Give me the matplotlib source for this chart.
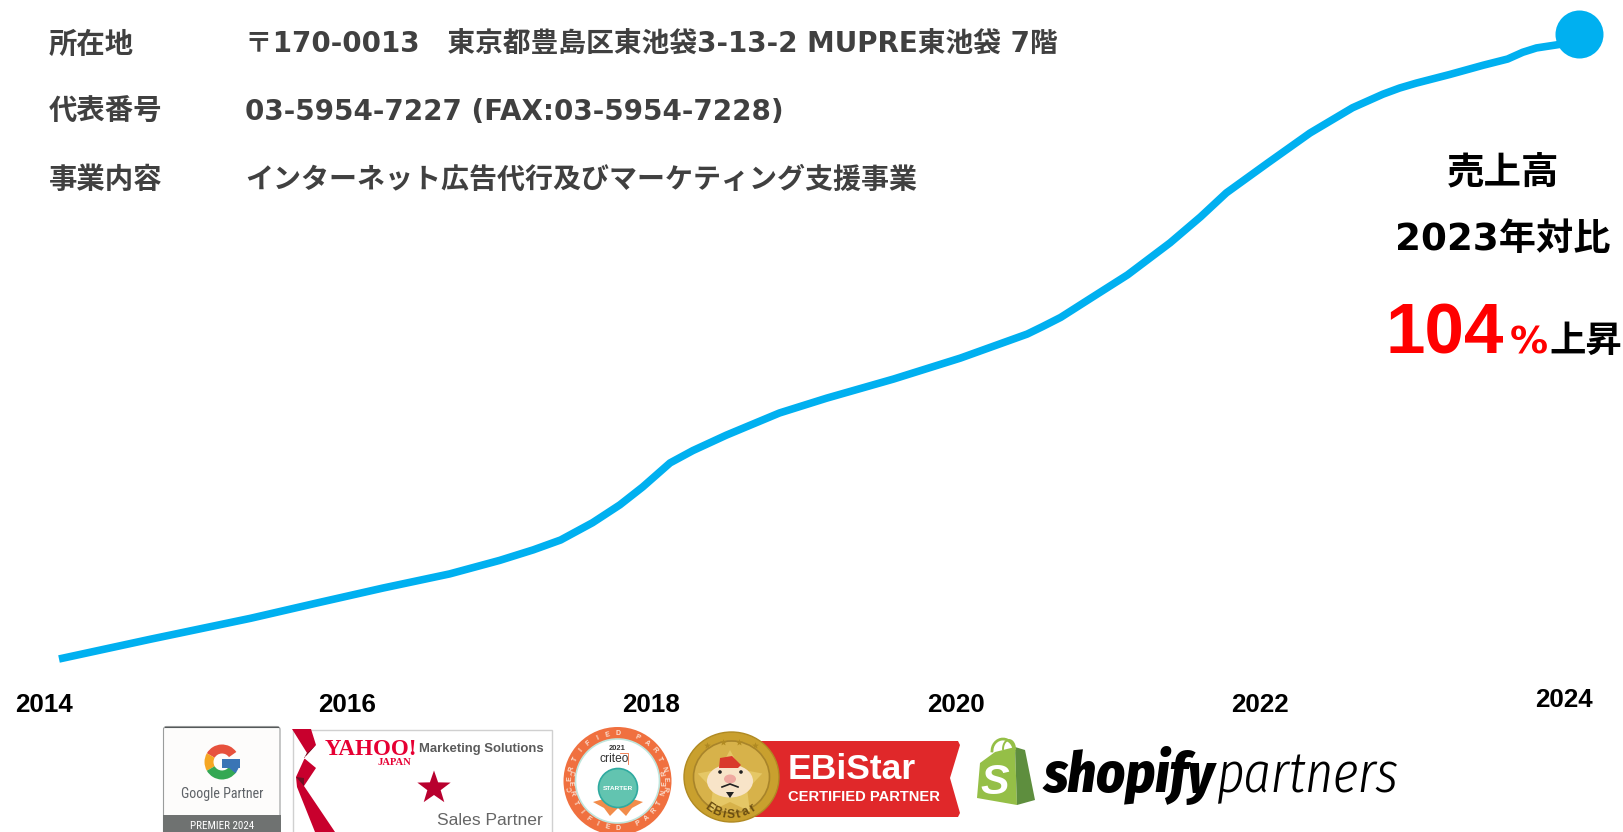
import numpy as np
import matplotlib
matplotlib.use("Agg")
import matplotlib.pyplot as plt
from matplotlib.patches import Circle, Wedge, Polygon, Rectangle, FancyBboxPatch, Ellipse

# ---------- data ----------
years = [2014.00, 2014.60, 2015.26, 2015.70, 2016.13, 2016.57, 2016.90, 2017.12, 2017.30, 2017.51,
         2017.69, 2017.84, 2018.02, 2018.17, 2018.39, 2018.74, 2019.05, 2019.49, 2019.93, 2020.37,
         2020.47, 2020.59, 2020.80, 2021.03, 2021.31, 2021.51, 2021.68, 2021.95, 2022.23, 2022.51, 2022.71,
         2022.82, 2022.93, 2023.15, 2023.37, 2023.53, 2023.63, 2023.72, 2023.88, 2024.00]
sales_index = [0.0, 3.2, 6.6, 9.1, 11.5, 13.8, 16.0, 17.7, 19.3, 22.1,
               25.0, 27.9, 31.8, 33.8, 36.3, 39.9, 42.3, 45.4, 48.8, 52.7,
               53.9, 55.4, 58.7, 62.3, 67.5, 71.7, 75.6, 80.4, 85.3, 89.4, 91.6,
               92.6, 93.4, 94.8, 96.3, 97.3, 98.4, 99.1, 99.7, 101.4]
tick_years = [2014, 2016, 2018, 2020, 2022, 2024]
info_labels = ["所在地", "代表番号", "事業内容"]
info_values = ["〒170-0013　東京都豊島区東池袋3-13-2 MUPRE東池袋 7階",
               "03-5954-7227 (FAX:03-5954-7228)",
               "インターネット広告代行及びマーケティング支援事業"]

W, H = 1623, 832
LINE = "#00B0F0"
MIXED = ["DejaVu Sans", "Noto Sans CJK JP"]
COND = ["Roboto Condensed", "Liberation Sans"]
PX = 0.72  # points per pixel at dpi 100

fig = plt.figure(figsize=(W / 100, H / 100), dpi=100, facecolor="white")

ax = fig.add_axes([0, 0, 1, 1])
PX_PER_YEAR, PX_PER_UNIT = 152.0, 6.166
ax.set_xlim(2014 - 59 / PX_PER_YEAR, 2014 + (W - 59) / PX_PER_YEAR)
ax.set_ylim(-(H - 659) / PX_PER_UNIT, 659 / PX_PER_UNIT)
ax.axis("off")
ax.plot(years, sales_index, color=LINE, lw=7.6 * PX, solid_capstyle="butt", solid_joinstyle="round", zorder=3)
ax.plot(years[-1], sales_index[-1], "o", color=LINE, ms=48 * PX, mew=0, zorder=4)

for yr in tick_years:
    base = -7.8 if yr == 2024 else -8.6
    ax.annotate(str(yr), xy=(yr, base), xytext=(-15.5, 0), textcoords="offset pixels",
                ha="center", va="baseline", family="Liberation Sans", weight="bold",
                fontsize=26 * PX, color="black")

p = fig.add_axes([0, 0, 1, 1], facecolor="none")
p.set_xlim(0, W)
p.set_ylim(H, 0)
p.axis("off")


def T(x, y, s, px, color="black", ha="left", va="baseline", weight="bold", family=None, **kw):
    return p.text(x, y, s, fontsize=px * PX, color=color, ha=ha, va=va, weight=weight,
                  family=family or MIXED, **kw)


def star(cx, cy, r_out, r_in, color, z=5, n=5):
    a = np.deg2rad(-90 + np.arange(2 * n) * 180 / n)
    r = np.where(np.arange(2 * n) % 2 == 0, r_out, r_in)
    p.add_patch(Polygon(np.c_[cx + r * np.cos(a), cy + r * np.sin(a)], closed=True, fc=color, ec="none", zorder=z))


def arc_text(cx, cy, r, s, a_start, a_step, px, color, z=8, weight="bold", bottom=False):
    for i, ch in enumerate(s):
        a = np.deg2rad(a_start + i * a_step)
        rot = -(np.rad2deg(a) + 90) if not bottom else -(np.rad2deg(a) - 90)
        p.text(cx + r * np.cos(a), cy + r * np.sin(a), ch, fontsize=px * PX, color=color, weight=weight,
               ha="center", va="center", rotation=rot, rotation_mode="anchor", family="Liberation Sans", zorder=z)


# ---------- info text ----------
rows_y = [53, 120, 188]
value_sizes = [27.7, 27.8, 28.0]
for lab, val, y, sz in zip(info_labels, info_values, rows_y, value_sizes):
    T(49, y, lab, 28.4, color="#404040")
    T(245, y, val, sz, color="#404040")

# ---------- right-hand callout ----------
T(1503, 183, "売上高", 37.5, ha="center")
T(1503, 250, "2023年対比", 37.2, ha="center")
T(1386, 353, "104", 71, color="#FF0000", family="Liberation Sans")
T(1510, 354, "%", 38, color="#FF0000")
T(1549, 352, "上昇", 36.4)

# ---------- Google Partner card ----------
p.add_patch(FancyBboxPatch((163.5, 726.5), 116.5, 110, boxstyle="round,pad=0,rounding_size=3",
                           fc="#FDFCFB", ec="#9A9C9C", lw=0.8, zorder=3))
p.plot([165, 278], [726.5, 726.5], color="#55595A", lw=0.8, zorder=4)
p.add_patch(Rectangle((163, 815), 117.5, 17, fc="#6F7271", ec="none", zorder=4))
G_c, G_r, G_w = (222, 762), 17.5, 9
for a1, a2, c in [(-150, -35, "#E7513D"), (150, 210, "#F5A623"), (35, 150, "#34A853"), (-2, 40, "#3A75B5")]:
    p.add_patch(Wedge(G_c, G_r, a1, a2, width=G_w, fc=c, ec="none", zorder=5))
p.add_patch(Rectangle((222, 759), 17.5, 9, fc="#3A75B5", ec="none", zorder=6))
T(222, 794, "Google Partner", 14, color="#5F6368", ha="center", va="center", weight="normal", family=COND, zorder=6)
T(222, 826, "PREMIER 2024", 11, color="white", ha="center", va="center", weight="normal", family=COND, zorder=6)

# ---------- Yahoo card ----------
p.add_patch(Rectangle((293, 730), 259, 104, fc="white", ec="#D0D0D0", lw=1, zorder=3))
p.add_patch(Polygon([(292, 729), (311, 729), (316, 745), (304, 758), (316, 768), (304, 786), (335, 832), (315, 832),
                     (297, 787), (296, 777), (307, 753)], closed=True, fc="#C8002D", ec="none", zorder=4))
p.add_patch(Polygon([(307, 753), (316, 745), (304, 758)], closed=True, fc="#6E1022", ec="none", zorder=5))
p.add_patch(Polygon([(296, 777), (304, 786), (304, 778)], closed=True, fc="#6E1022", ec="none", zorder=5))
T(325, 755, "YAHOO!", 23, color="#E60033", family="Liberation Serif", zorder=5)
T(378, 765, "JAPAN", 10.5, color="#E60033", family="Liberation Serif", zorder=5)
T(419, 752, "Marketing Solutions", 13.1, color="#5A5A5A", family="Liberation Sans", zorder=5)
star(434, 788, 17.5, 7, "#B8002E")
T(543, 825, "Sales Partner", 17.5, color="#666666", ha="right", weight="normal", family="Liberation Sans", zorder=5)

# ---------- Criteo badge ----------
cc = (617.5, 781)
p.add_patch(Circle(cc, 54, fc="#F0703F", ec="none", zorder=3))
p.add_patch(Circle(cc, 42, fc="white", ec="#BFE5DC", lw=1.2, zorder=4))
arc_text(cc[0], cc[1], 47.5, "CERTIFIED PARTNER", -190, 12.5, 7, "#FBE3D5")
arc_text(cc[0], cc[1], 47.5, "CERTIFIED PARTNER", 190, -12.5, 7, "#FBE3D5", bottom=True)
T(617, 748, "2021", 7.5, color="#333333", ha="center", va="center", family="Liberation Sans", zorder=6)
T(614, 759, "criteo", 12, color="#333333", ha="center", va="center", weight="normal", family="Liberation Sans", zorder=6)
p.plot([620, 628, 628], [753, 753, 764], color="#F0703F", lw=0.6, zorder=6)
p.add_patch(Polygon([(593, 802), (607, 798), (618, 808), (610, 816), (604, 808)], closed=True, fc="#F28C4A", ec="none", zorder=5))
p.add_patch(Polygon([(643, 802), (629, 798), (618, 808), (626, 816), (632, 808)], closed=True, fc="#F28C4A", ec="none", zorder=5))
p.add_patch(Circle((618, 788), 19.5, fc="#62C4B0", ec="#2FAAA0", lw=1.2, zorder=6))
T(618, 788, "STARTER", 6.5, color="white", ha="center", va="center", family="Liberation Sans", zorder=7)

# ---------- EBiStar badge ----------
p.add_patch(Polygon([(750, 741), (958, 741), (960, 745), (950, 778), (960, 813), (958, 817), (750, 817)],
                    closed=True, fc="#E0282A", ec="none", zorder=3))
T(788, 779, "EBiStar", 35.5, color="white", family="Liberation Sans", zorder=5)
T(788, 801, "CERTIFIED PARTNER", 14.8, color="white", family="Liberation Sans", zorder=5)
mc = (731.5, 777)
p.add_patch(Ellipse(mc, 95, 90, fc="#C9A02E", ec="#B08A22", lw=1, zorder=4))
p.add_patch(Ellipse(mc, 76, 72, fc="#D7B24A", ec="#A8842A", lw=1.2, zorder=5))
star(730, 784, 34, 18, "#E5C766", z=6)
for sx in (-24, -8, 8, 24):
    star(mc[0] + sx, 741 + abs(sx) * 0.2, 3.5, 1.5, "#B08A22", z=6)
p.add_patch(Ellipse((730, 781), 46, 33, fc="#F8E4C8", ec="none", zorder=7))
p.add_patch(Polygon([(719, 768), (720, 758), (732, 756), (741, 765), (738, 768)], closed=True, fc="#D93A2B", ec="none", zorder=8))
p.add_patch(Ellipse((730, 779), 12, 9, fc="#EFA9A0", ec="none", zorder=9))
p.add_patch(Circle((720, 772), 1.8, fc="#222222", ec="none", zorder=9))
p.add_patch(Circle((741, 772), 1.8, fc="#222222", ec="none", zorder=9))
p.plot([722, 730, 738], [787, 784, 787], color="#222222", lw=1.2, zorder=9)
p.add_patch(Polygon([(726, 792), (734, 792), (730, 798)], closed=True, fc="#222222", ec="none", zorder=9))
arc_text(mc[0], mc[1], 38, "EBiStar", 125, -11.5, 12, "#6B4E12", z=9, bottom=True)

# ---------- Shopify ----------
p.add_patch(Polygon([(980, 763), (995, 752), (1015, 747), (1017, 805), (977, 798)], closed=True, fc="#95BF47", ec="none", zorder=3))
p.add_patch(Polygon([(1015, 747), (1025, 750), (1035, 800), (1017, 805)], closed=True, fc="#5E8E3E", ec="none", zorder=3))
th = np.linspace(np.pi, 2 * np.pi, 16)
p.plot(1003 + 11 * np.cos(th), 751 + 12 * np.sin(th), color="#95BF47", lw=2, zorder=3)
p.plot(1009 + 6 * np.cos(th), 749 + 9 * np.sin(th), color="#95BF47", lw=1.4, zorder=3)
T(995, 794, "S", 43, color="white", ha="center", family="Liberation Sans", style="italic", zorder=5)
T(1044, 792, "shopify", 56, color="black", family=["Fira Sans Condensed", "Lato"], weight=800, style="italic", zorder=5)
T(1217, 792, "partners", 58, color="black", weight=300, family=["Fira Sans Extra Condensed", "Fira Sans Condensed", "Lato"], style="italic", zorder=5)

fig.savefig("out.png", dpi=100, facecolor="white")
